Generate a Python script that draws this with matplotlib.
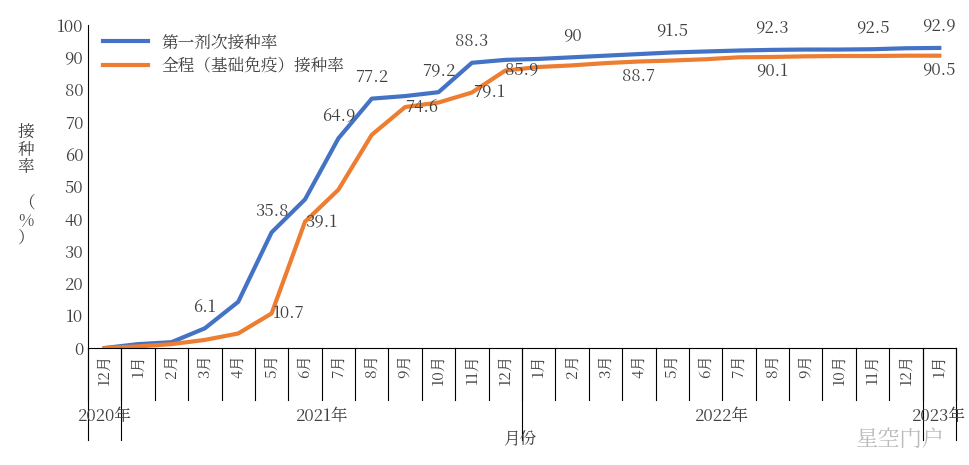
import matplotlib
matplotlib.use("Agg")
import matplotlib.pyplot as plt
import matplotlib.transforms as mtransforms
from matplotlib import font_manager

cjk = [f.name for f in font_manager.fontManager.ttflist if "CJK" in f.name]
pref = [n for n in cjk if "SC" in n] or cjk
plt.rcParams["font.family"] = (pref[:1] if pref else []) + ["Noto Sans CJK SC", "DejaVu Sans"]

months = ["12月"] + [f"{m}月" for m in range(1, 13)] + [f"{m}月" for m in range(1, 13)] + ["1月"]
years = ["2020年", "2021年", "2022年", "2023年"]
year_counts = [1, 12, 12, 1]
first_dose = [0, 1.2, 1.8, 6.1, 14.3, 35.8, 46.0, 64.9, 77.2, 78.0, 79.2, 88.3, 89.2,
              89.5, 90.0, 90.5, 91.0, 91.5, 91.8, 92.1, 92.3, 92.4, 92.4, 92.5, 92.8, 92.9]
full_course = [0, 0.5, 1.2, 2.5, 4.5, 10.7, 39.1, 49.0, 66.0, 74.6, 76.0, 79.1, 85.9,
               87.0, 87.5, 88.2, 88.7, 89.0, 89.4, 90.0, 90.1, 90.3, 90.4, 90.4, 90.5, 90.5]
first_labels = [3, 5, 7, 8, 10, 11, 14, 17, 20, 23, 25]
full_labels = [5, 6, 9, 11, 12, 16, 20, 25]

fig = plt.figure(figsize=(9.69, 4.65), dpi=100)
ax = fig.add_axes([88/969, 117/465, 868/969, 323/465])
x = list(range(len(months)))
blue, orange = "#4472C4", "#ED7D31"
ax.plot(x, first_dose, color=blue, lw=3, label="第一剂次接种率")
ax.plot(x, full_course, color=orange, lw=3, label="全程（基础免疫）接种率")
ax.set_xlim(-0.5, len(months) - 0.5)
ax.set_ylim(0, 100)
ax.set_yticks(range(0, 101, 10))
ax.tick_params(axis="y", length=0, labelsize=12, colors="#404040")
ax.set_xticks([])
for s in ["top", "right"]:
    ax.spines[s].set_visible(False)
ax.spines["left"].set_color("black")
ax.spines["bottom"].set_color("black")

tc = "#404040"
for i in first_labels:
    ax.annotate(f"{first_dose[i]:g}", (i, first_dose[i]), xytext=(0, 9), textcoords="offset points",
                ha="center", va="bottom", fontsize=12, color=tc)
for i in full_labels:
    if i >= 13:
        ax.annotate(f"{full_course[i]:g}", (i, full_course[i]), xytext=(0, -4), textcoords="offset points",
                    ha="center", va="top", fontsize=12, color=tc)
    else:
        ax.annotate(f"{full_course[i]:g}", (i, full_course[i]), xytext=(12, 0), textcoords="offset points",
                    ha="center", va="center", fontsize=12, color=tc)

trans = mtransforms.blended_transform_factory(ax.transData, ax.transAxes)
ppx = 1 / 323
for i in range(len(months) + 1):
    ax.plot([i - 0.5, i - 0.5], [0, -52*ppx], transform=trans, color="black", lw=0.8, clip_on=False)
for i, m in enumerate(months):
    ax.text(i, -6*ppx, m, transform=trans, rotation=90, ha="center", va="top", fontsize=11, color=tc)
start = -0.5
for y, c in zip(years, year_counts):
    ax.plot([start, start], [0, -92*ppx], transform=trans, color="black", lw=0.8, clip_on=False)
    ax.text(start + c/2, -68*ppx, y, transform=trans, ha="center", va="center", fontsize=12, color=tc)
    start += c
ax.plot([start, start], [0, -92*ppx], transform=trans, color="black", lw=0.8, clip_on=False)

fig.text(520/969, 1 - 440/465, "月份", ha="center", va="center", fontsize=12, color=tc)
fig.text(26/969, 1 - 185/465, "接\n种\n率\n\n（\n%\n）", ha="center", va="center", fontsize=12,
         color=tc, linespacing=1.0)
fig.text(900/969, 1 - 440/465, "星空门户", ha="center", va="center", fontsize=16, color="#BBBBBB")

ax.legend(loc="upper left", bbox_to_anchor=(0.0, 1.02), frameon=False, fontsize=12,
          handlelength=2.7, labelspacing=0.4, labelcolor=tc)
fig.savefig("out.png", dpi=100)
